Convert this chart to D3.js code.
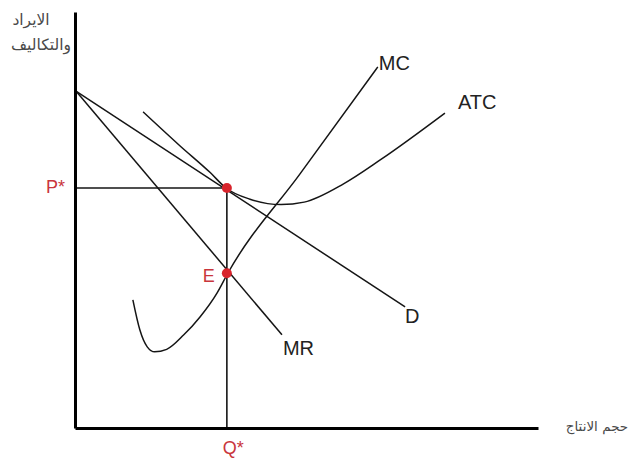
<!DOCTYPE html>
<html>
<head>
<meta charset="utf-8">
<script src="https://cdn.jsdelivr.net/npm/d3@7"></script>
<style>
  body { margin: 0; background: #fff; }
  .curve { fill: none; stroke: #151515; stroke-width: 1.5; }
  .guide { fill: none; stroke: #151515; stroke-width: 1.6; }
  .lbl { font-family: "Liberation Sans", Arial, sans-serif; font-size: 20px; fill: #222; }
  .red { font-family: "Liberation Sans", Arial, sans-serif; font-size: 18px; fill: #c9353c; }
  .ar { font-family: "DejaVu Sans", "Noto Sans", sans-serif; font-size: 15.5px; fill: #4a4a4a; }
</style>
</head>
<body>
<div class="chart"></div>
<script>
// chart size
var svgWidth = 638;
var svgHeight = 459;

// axis titles
var yTitle = ["الايراد", "والتكاليف"];
var xTitle = "حجم الانتاج";

// curves as [quantity, price]
var demand = [[0.02, 8.1], [7.13, 2.91]];
var marginalRevenue = [[0.02, 8.1], [4.47, 2.24]];
var averageCost = [[1.47, 7.6], [2.27, 6.78], [2.92, 6.14], [3.26, 5.77], [3.78, 5.5],
  [4.45, 5.37], [4.95, 5.43], [5.8, 5.87], [6.6, 6.45], [7.99, 7.57]];
var marginalCost = [[1.25, 3.08], [1.4, 2.36], [1.56, 1.95], [1.72, 1.83], [1.98, 1.89],
  [2.35, 2.24], [2.7, 2.67], [3.07, 3.25], [3.3, 3.72], [4.86, 6.11], [6.54, 8.68]];

// equilibrium
var qStar = 3.28;
var pStar = 5.77;
var eValue = 3.72;

var curveNames = ["D", "MR", "ATC", "MC"];

var svg = d3.select(".chart")
  .append("svg")
  .attr("width", svgWidth)
  .attr("height", svgHeight);

var xScale = d3.scaleLinear().domain([0, 10]).range([75, 538]);
var yScale = d3.scaleLinear().domain([0, 10]).range([428, 12]);

var straight = d3.line()
  .x(function(d) { return xScale(d[0]); })
  .y(function(d) { return yScale(d[1]); });

var smooth = d3.line()
  .x(function(d) { return xScale(d[0]); })
  .y(function(d) { return yScale(d[1]); })
  .curve(d3.curveMonotoneX);

// guides for P* and Q*
svg.append("path")
  .attr("class", "guide")
  .attr("d", straight([[0, pStar], [qStar, pStar]]));
svg.append("path")
  .attr("class", "guide")
  .attr("d", straight([[qStar, 0], [qStar, pStar]]));

svg.append("path").attr("class", "curve").attr("d", straight(demand));
svg.append("path").attr("class", "curve").attr("d", straight(marginalRevenue));
svg.append("path").attr("class", "curve").attr("d", smooth(averageCost));
svg.append("path").attr("class", "curve").attr("d", smooth(marginalCost));

// axes without ticks
var leftAxis = d3.axisLeft(yScale).ticks(0).tickSize(0).tickSizeOuter(0);
var bottomAxis = d3.axisBottom(xScale).ticks(0).tickSize(0).tickSizeOuter(0);

svg.append("g")
  .attr("transform", `translate(${xScale(0)}, 0)`)
  .call(leftAxis);
svg.append("g")
  .attr("transform", `translate(0, ${yScale(0)})`)
  .call(bottomAxis);
svg.selectAll(".domain").attr("stroke", "#000").attr("stroke-width", 3);

// equilibrium dots
svg.selectAll("circle")
  .data([[qStar, pStar], [qStar, eValue]])
  .enter()
  .append("circle")
  .attr("cx", function(d) { return xScale(d[0]); })
  .attr("cy", function(d) { return yScale(d[1]); })
  .attr("r", 5)
  .attr("fill", "#d8242c");

// curve labels at the curve ends
var ends = {
  "D": { p: demand[demand.length - 1], dx: 0, dy: 16 },
  "MR": { p: marginalRevenue[marginalRevenue.length - 1], dx: 1, dy: 20 },
  "ATC": { p: averageCost[averageCost.length - 1], dx: 13, dy: -4 },
  "MC": { p: marginalCost[marginalCost.length - 1], dx: 1, dy: 3 }
};
curveNames.forEach(function(name) {
  var e = ends[name];
  svg.append("text")
    .attr("class", "lbl")
    .attr("x", xScale(e.p[0]) + e.dx)
    .attr("y", yScale(e.p[1]) + e.dy)
    .text(name);
});

// red labels
svg.append("text").attr("class", "red")
  .attr("x", xScale(0) - 29).attr("y", yScale(pStar) + 5)
  .text("P*");
svg.append("text").attr("class", "red")
  .attr("x", xScale(qStar) - 24).attr("y", yScale(eValue) + 9)
  .text("E");
svg.append("text").attr("class", "red")
  .attr("x", xScale(qStar) - 4).attr("y", yScale(0) + 26)
  .text("Q*");

// arabic axis titles
svg.append("text").attr("class", "ar")
  .attr("x", 31).attr("y", 25)
  .attr("text-anchor", "middle")
  .text(yTitle[0]);
svg.append("text").attr("class", "ar")
  .attr("x", 41).attr("y", 50)
  .attr("text-anchor", "middle")
  .text(yTitle[1]);
svg.append("text").attr("class", "ar")
  .attr("x", 597).attr("y", 431)
  .attr("text-anchor", "middle")
  .style("font-size", "13.5px")
  .text(xTitle);
</script>
</body>
</html>
